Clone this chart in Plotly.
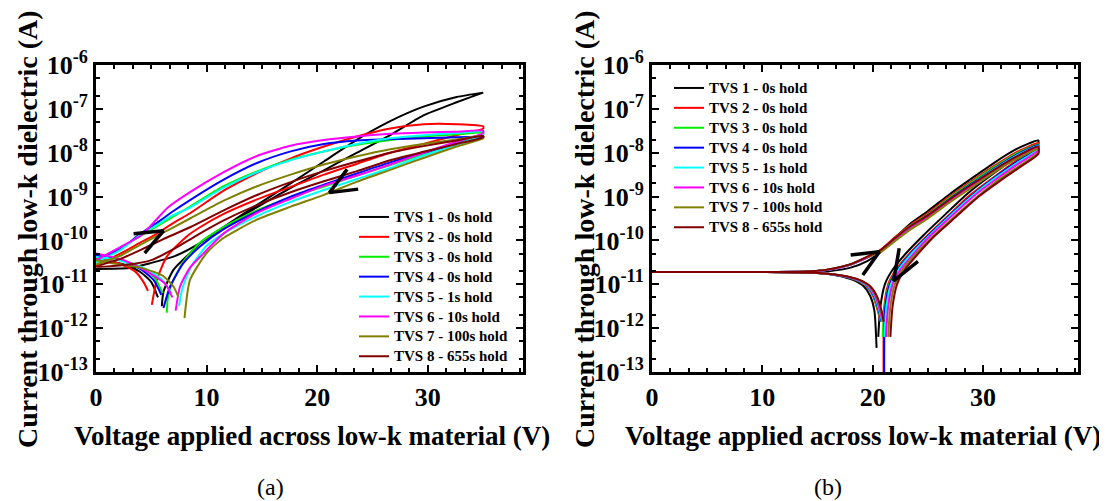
import plotly.graph_objects as go

NAMES = ["TVS 1 - 0s hold", "TVS 2 - 0s hold", "TVS 3 - 0s hold", "TVS 4 - 0s hold",
         "TVS 5 - 1s hold", "TVS 6 - 10s hold", "TVS 7 - 100s hold", "TVS 8 - 655s hold"]
COLORS = ["#000000", "#ff0000", "#00ee00", "#0000ff", "#00ffff", "#ff00ff", "#808000", "#800000"]

# ---------------- Panel (a): values as log10(current / A) ----------------
A_UP_V = [
    [0, 3, 4.9, 7, 9.4, 11.5, 14.5, 17.6, 20.6, 23.6, 26.6, 29.6, 32.6, 35],
    [0, 2.2, 4, 5.5, 7, 8.5, 11.5, 14.5, 17.6, 20.6, 23.6, 26.6, 29.6, 32.6, 35],
    [0, 2.2, 4, 5.5, 7, 8.5, 11.5, 14.5, 17.6, 20.6, 23.6, 26.6, 29.6, 32.6, 35],
    [0, 2.2, 4, 5.5, 7, 8.5, 11.5, 14.5, 17.6, 20.6, 23.6, 26.6, 29.6, 32.6, 35],
    [0, 2.2, 4, 5.5, 7, 8.5, 11.5, 14.5, 17.6, 20.6, 23.6, 26.6, 29.6, 32.6, 35],
    [0, 2.2, 4, 4.9, 6.5, 8.5, 11.5, 14.5, 17.6, 20.6, 23.6, 26.6, 29.6, 32.6, 35],
    [0, 2.2, 4, 5.5, 7, 8.5, 11.5, 14.5, 17.6, 20.6, 23.6, 26.6, 29.6, 32.6, 35],
    [0, 2.2, 4, 6, 8.5, 11.5, 14.5, 17.6, 20.6, 23.6, 26.6, 29.6, 32.6, 35],
]
A_UP_LOG = [
    [-10.65, -10.63, -10.52, -10.37, -10.06, -9.7, -9.2, -8.7, -8.2, -7.7, -7.28, -6.95, -6.73, -6.63],
    [-10.57, -10.3, -10.05, -9.85, -9.6, -9.38, -8.87, -8.47, -8.13, -7.86, -7.63, -7.45, -7.35, -7.35, -7.4],
    [-10.5, -10.18, -9.9, -9.68, -9.45, -9.23, -8.77, -8.43, -8.16, -7.97, -7.82, -7.71, -7.63, -7.58, -7.55],
    [-10.45, -10.2, -9.85, -9.6, -9.33, -9.08, -8.62, -8.24, -7.97, -7.8, -7.72, -7.69, -7.67, -7.65, -7.63],
    [-10.5, -10.22, -9.88, -9.65, -9.42, -9.25, -8.8, -8.45, -8.17, -7.97, -7.8, -7.67, -7.6, -7.55, -7.52],
    [-10.45, -10.15, -9.9, -9.68, -9.25, -8.9, -8.45, -8.08, -7.84, -7.71, -7.63, -7.57, -7.54, -7.52, -7.5],
    [-10.55, -10.35, -10.1, -9.9, -9.7, -9.5, -9.1, -8.77, -8.5, -8.27, -8.08, -7.92, -7.8, -7.7, -7.62],
    [-10.6, -10.42, -10.22, -9.98, -9.7, -9.32, -8.97, -8.67, -8.42, -8.2, -8.0, -7.85, -7.72, -7.62],
]
A_DN_V = [
    [35, 32.6, 29.6, 26.6, 23.6, 20.6, 17.6, 14.5, 11.5, 9.7, 8.5, 7, 6.1, 5.95],
    [35, 32.6, 29.6, 26.6, 23.6, 20.6, 17.6, 14.5, 11.5, 9.4, 8.2, 6.4, 5.5, 5.05],
    [35, 32.6, 29.6, 26.6, 23.6, 20.6, 17.6, 14.5, 11.5, 9.4, 8, 7, 6.5, 6.4],
    [35, 32.6, 29.6, 26.6, 23.6, 20.6, 17.6, 14.5, 11.5, 9.4, 7.9, 6.7, 6.1],
    [35, 32.6, 29.6, 26.6, 23.6, 20.6, 17.6, 14.5, 11.5, 10, 8.6, 7.8, 7.5],
    [35, 32.6, 29.6, 26.6, 23.6, 20.6, 17.6, 14.5, 11.5, 9.7, 8.5, 7.6, 7.2],
    [35, 32.6, 29.6, 26.6, 23.6, 20.6, 17.6, 14.5, 11.5, 10, 8.5, 8.0],
    [35, 32.6, 29.6, 26.6, 23.6, 20.6, 17.6, 14.5, 11.5, 9, 7, 5, 3, 0],
]
A_DN_LOG = [
    [-6.63, -6.85, -7.15, -7.6, -8.0, -8.4, -8.8, -9.25, -9.7, -10.0, -10.29, -10.67, -11.17, -11.5],
    [-7.45, -7.6, -7.8, -8.0, -8.25, -8.5, -8.78, -9.07, -9.4, -9.7, -9.91, -10.37, -10.9, -11.47],
    [-7.6, -7.78, -8.03, -8.28, -8.52, -8.77, -9.02, -9.32, -9.7, -10.05, -10.45, -10.9, -11.3, -11.65],
    [-7.63, -7.8, -8.0, -8.22, -8.47, -8.73, -9.0, -9.35, -9.75, -10.14, -10.52, -11.05, -11.54],
    [-7.58, -7.82, -8.07, -8.35, -8.6, -8.85, -9.12, -9.45, -9.85, -10.12, -10.6, -11.1, -11.5],
    [-7.55, -7.75, -8.0, -8.27, -8.52, -8.75, -9.05, -9.38, -9.85, -10.3, -10.62, -11.05, -11.6],
    [-7.67, -7.86, -8.12, -8.39, -8.66, -8.96, -9.23, -9.53, -9.95, -10.29, -10.9, -11.77],
    [-7.65, -7.8, -7.98, -8.17, -8.42, -8.65, -8.9, -9.2, -9.55, -9.9, -10.2, -10.45, -10.55, -10.6],
]
A_NEG_V = [
    [5.6, 5.0, 4.0, 2.5, 0],
    [4.7, 4.3, 3.5, 2, 0],
    [6.0, 5.3, 4, 2, 0],
    [5.9, 5.2, 4, 2, 0],
    [6.8, 6.0, 4.5, 2, 0],
    [6.9, 6.3, 4.9, 2.5, 0],
    [7.45, 7.0, 6, 4, 2.2, 0],
    [],
]
A_NEG_LOG = [
    [-11.3, -10.95, -10.72, -10.55, -10.42],
    [-11.15, -10.95, -10.7, -10.52, -10.42],
    [-11.2, -10.85, -10.6, -10.42, -10.35],
    [-11.24, -10.9, -10.65, -10.42, -10.35],
    [-11.2, -10.9, -10.65, -10.45, -10.38],
    [-11.3, -11.0, -10.75, -10.45, -10.3],
    [-11.29, -11.05, -10.8, -10.62, -10.55, -10.45],
    [],
]

# ---------------- Panel (b): values as log10(current / A) ----------------
B_UP_V = [0, 5, 10, 14, 16, 18, 19.5, 20.7, 22, 23.5, 25, 27, 29, 31, 33, 35]
B_UP_LOG = [
    [-10.72, -10.72, -10.72, -10.72, -10.70, -10.62, -10.47, -10.27, -9.95, -9.60, -9.33, -8.94, -8.58, -8.23, -7.92, -7.72],
    [-10.72, -10.72, -10.72, -10.71, -10.67, -10.55, -10.38, -10.22, -9.93, -9.63, -9.38, -8.99, -8.64, -8.30, -7.99, -7.78],
    [-10.72, -10.72, -10.72, -10.71, -10.67, -10.55, -10.39, -10.23, -9.95, -9.65, -9.41, -9.02, -8.67, -8.33, -8.02, -7.81],
    [-10.72, -10.72, -10.72, -10.71, -10.67, -10.55, -10.39, -10.24, -9.97, -9.67, -9.43, -9.05, -8.70, -8.36, -8.05, -7.83],
    [-10.72, -10.72, -10.72, -10.71, -10.67, -10.55, -10.39, -10.25, -9.98, -9.69, -9.45, -9.07, -8.72, -8.38, -8.07, -7.85],
    [-10.72, -10.72, -10.72, -10.71, -10.67, -10.55, -10.39, -10.26, -10.00, -9.71, -9.47, -9.10, -8.75, -8.41, -8.10, -7.88],
    [-10.72, -10.72, -10.72, -10.71, -10.66, -10.54, -10.38, -10.27, -10.02, -9.74, -9.50, -9.13, -8.79, -8.45, -8.14, -7.92],
    [-10.72, -10.72, -10.72, -10.71, -10.66, -10.54, -10.37, -10.22, -9.95, -9.66, -9.43, -9.06, -8.72, -8.39, -8.09, -7.86],
]
B_DN_V = [
    [35, 32.8, 30.7, 28.6, 26.6, 24.6, 23.1, 21.8, 21.1, 20.7, 20.5],
    [35, 32.9, 30.9, 28.9, 26.9, 24.9, 23.4, 22.1, 21.4, 21.05, 20.98, 20.98],
    [35, 33.0, 31.0, 29.0, 27.0, 25.0, 23.5, 22.2, 21.5, 21.1, 20.9],
    [35, 33.0, 31.0, 29.0, 27.0, 25.0, 23.5, 22.25, 21.55, 21.15, 21.05, 21.05],
    [35, 33.1, 31.1, 29.1, 27.1, 25.1, 23.6, 22.35, 21.65, 21.25, 21.05],
    [35, 33.2, 31.2, 29.2, 27.2, 25.2, 23.8, 22.5, 21.8, 21.4, 21.2],
    [35, 33.4, 31.4, 29.5, 27.5, 25.5, 24.0, 22.7, 22.0, 21.6, 21.4],
    [35, 33.5, 31.6, 29.6, 27.6, 25.6, 24.2, 22.9, 22.2, 21.8, 21.6],
]
B_DN_LOG = [
    [-7.80, -8.15, -8.52, -8.93, -9.40, -9.88, -10.27, -10.67, -11.0, -11.5, -12.2],
    [-7.85, -8.2, -8.57, -8.95, -9.42, -9.9, -10.28, -10.67, -11.0, -11.5, -12.2, -14.0],
    [-7.88, -8.22, -8.57, -8.97, -9.42, -9.9, -10.28, -10.67, -11.0, -11.5, -12.2],
    [-7.90, -8.22, -8.57, -8.97, -9.42, -9.9, -10.28, -10.67, -11.0, -11.5, -12.2, -14.0],
    [-7.92, -8.23, -8.58, -8.97, -9.42, -9.9, -10.28, -10.67, -11.0, -11.5, -12.2],
    [-7.95, -8.25, -8.6, -8.98, -9.43, -9.9, -10.28, -10.67, -11.0, -11.5, -12.2],
    [-8.00, -8.28, -8.62, -9.0, -9.44, -9.9, -10.28, -10.67, -11.0, -11.5, -12.2],
    [-8.03, -8.3, -8.63, -9.0, -9.45, -9.9, -10.28, -10.67, -11.0, -11.5, -12.2],
]
B_NEG_V = [
    [20.35, 20.15, 19.8, 19.2, 18.2, 16.8, 15, 10, 0],
    [20.7, 20.45, 20.05, 19.45, 18.45, 17, 15, 10, 0],
    [20.75, 20.5, 20.1, 19.5, 18.5, 17, 15, 10, 0],
    [20.8, 20.55, 20.15, 19.55, 18.55, 17, 15, 10, 0],
    [20.85, 20.6, 20.2, 19.6, 18.6, 17.1, 15, 10, 0],
    [20.9, 20.65, 20.25, 19.65, 18.65, 17.1, 15, 10, 0],
    [20.95, 20.75, 20.35, 19.75, 18.75, 17.2, 15, 10, 0],
    [21.0, 20.8, 20.4, 19.8, 18.8, 17.2, 15, 10, 0],
]
B_NEG_LOG = [
    [-12.45, -11.6, -11.28, -11.05, -10.9, -10.8, -10.74, -10.72, -10.72],
    [-11.85, -11.6, -11.28, -11.05, -10.9, -10.8, -10.74, -10.72, -10.72],
    [-11.85, -11.6, -11.28, -11.05, -10.9, -10.8, -10.74, -10.72, -10.72],
    [-11.85, -11.6, -11.28, -11.05, -10.9, -10.8, -10.74, -10.72, -10.72],
    [-11.85, -11.6, -11.28, -11.05, -10.9, -10.8, -10.74, -10.72, -10.72],
    [-11.85, -11.6, -11.28, -11.05, -10.9, -10.8, -10.74, -10.72, -10.72],
    [-11.85, -11.6, -11.28, -11.05, -10.9, -10.8, -10.74, -10.72, -10.72],
    [-11.85, -11.6, -11.28, -11.05, -10.9, -10.8, -10.74, -10.72, -10.72],
]

# sweep-direction arrow heads (barb, tip, barb) in V and log10(I)
ARROWS_A_V = [[3.4, 6.1, 4.4], [22.7, 21.1, 23.7]]
ARROWS_A_LOG = [[-9.85, -9.78, -10.29], [-8.38, -8.91, -8.83]]
ARROWS_B_V = [[18.0, 20.6, 19.1], [22.4, 21.9, 24.1]]
ARROWS_B_LOG = [[-10.33, -10.26, -10.79], [-10.18, -10.92, -10.48]]

Y_TICK_EXP = [-13, -12, -11, -10, -9, -8, -7, -6]
X_TICKS = [0, 10, 20, 30]

# The page body adds an 8 px offset; the figure is sized so the window shows it all.
OFF = 8
FW, FH = 1107 - OFF, 501 - OFF
SERIF = "Liberation Serif"


def px_x(p):
    return (p - OFF) / FW


def px_y(p):
    return 1 - (p - OFF) / FH


def to_amp(logs):
    return [10 ** v for v in logs]


fig = go.Figure()

for upv, uplog, dnv, dnlog, ngv, nglog, xa, ya, leg in [
    (A_UP_V, A_UP_LOG, A_DN_V, A_DN_LOG, A_NEG_V, A_NEG_LOG, "x", "y", "legend"),
    (None, B_UP_LOG, B_DN_V, B_DN_LOG, B_NEG_V, B_NEG_LOG, "x2", "y2", "legend2"),
]:
    for i in range(8):
        uv = upv[i] if upv is not None else B_UP_V
        xs = list(uv) + list(dnv[i])
        ys = to_amp(uplog[i]) + to_amp(dnlog[i])
        if ngv[i]:
            xs += [None] + list(ngv[i])
            ys += [None] + to_amp(nglog[i])
        fig.add_trace(go.Scatter(
            x=xs, y=ys, mode="lines",
            name='<span style="font-size:15px">%s</span>' % NAMES[i],
            line=dict(color=COLORS[i], width=2, shape="spline", smoothing=0.6),
            xaxis=xa, yaxis=ya, legend=leg,
        ))

for av, alog, xa, ya in [(ARROWS_A_V, ARROWS_A_LOG, "x", "y"), (ARROWS_B_V, ARROWS_B_LOG, "x2", "y2")]:
    for v, lg in zip(av, alog):
        fig.add_trace(go.Scatter(x=v, y=to_amp(lg), mode="lines", showlegend=False,
                                 line=dict(color="black", width=3.5), xaxis=xa, yaxis=ya,
                                 hoverinfo="skip"))

ydom = [px_y(372), px_y(65)]
common_x = dict(range=[0, 38.6], tickvals=X_TICKS, ticktext=[str(t) for t in X_TICKS],
                ticks="inside", ticklen=7, tickwidth=2, tickcolor="black",
                showline=True, linewidth=3, linecolor="black", mirror="ticks",
                showgrid=False, zeroline=False, automargin=False,
                minor=dict(ticks="inside", dtick=10 / 6, ticklen=4, tickwidth=1.5, tickcolor="black", showgrid=False),
                tickfont=dict(family=SERIF, size=26, color="black", weight="bold"))
common_y = dict(type="log", range=[-13, -6], tickvals=[10 ** e for e in Y_TICK_EXP],
                ticktext=["10<sup>%d</sup>" % e for e in Y_TICK_EXP],
                ticks="inside", ticklen=7, tickwidth=2, tickcolor="black",
                showline=True, linewidth=3, linecolor="black", mirror="ticks",
                showgrid=False, zeroline=False, automargin=False,
                minor=dict(ticks="inside", ticklen=4, tickwidth=1.5, tickcolor="black", showgrid=False),
                tickfont=dict(family=SERIF, size=26, color="black", weight="bold"), domain=ydom)

leg_common = dict(xanchor="left", yanchor="top", bgcolor="rgba(0,0,0,0)", borderwidth=0,
                  itemwidth=30, tracegroupgap=0,
                  font=dict(family=SERIF, size=13, color="black", weight="bold"))

fig.update_layout(
    width=FW, height=FH, margin=dict(l=0, r=0, t=0, b=0, autoexpand=False),
    paper_bgcolor="white", plot_bgcolor="white",
    xaxis=dict(domain=[px_x(96), px_x(523)], anchor="y", **common_x),
    yaxis=dict(anchor="x", **common_y),
    xaxis2=dict(domain=[px_x(652), px_x(1078)], anchor="y2", **common_x),
    yaxis2=dict(anchor="x2", **common_y),
    legend=dict(x=px_x(354), y=px_y(202), **leg_common),
    legend2=dict(x=px_x(669), y=px_y(73), **leg_common),
    showlegend=True,
)

for xc in (27, 584):
    fig.add_annotation(text="Current through low-k dielectric (A)", textangle=-90,
                       xref="paper", yref="paper", x=px_x(xc), y=px_y(229),
                       showarrow=False, font=dict(family=SERIF, size=28, color="black", weight="bold"),
                       xanchor="center", yanchor="middle")
for xc in (312, 863):
    fig.add_annotation(text="Voltage applied across low-k material (V)",
                       xref="paper", yref="paper", x=px_x(xc), y=px_y(436),
                       showarrow=False, font=dict(family=SERIF, size=27, color="black", weight="bold"),
                       xanchor="center", yanchor="middle")
for xc, lab in ((270, "(a)"), (828, "(b)")):
    fig.add_annotation(text=lab, xref="paper", yref="paper", x=px_x(xc), y=px_y(487),
                       showarrow=False, font=dict(family=SERIF, size=24, color="black"),
                       xanchor="center", yanchor="middle")

fig.write_html("out.html")
